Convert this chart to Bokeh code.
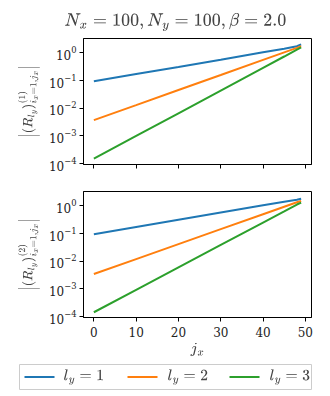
from bokeh.plotting import figure
from bokeh.models import Range1d, FixedTicker, Label, Title, Spacer
from bokeh.layouts import column, row
from bokeh.embed import file_html
from bokeh.resources import INLINE

# ---- data ----
jx = [0, 10, 20, 30, 40, 45, 48, 49]

r1_ly1 = [0.0955, 0.174, 0.309, 0.562, 1.047, 1.413, 1.738, 2.04]
r1_ly2 = [3.72e-3, 0.0130, 0.0457, 0.160, 0.562, 1.047, 1.514, 1.738]
r1_ly3 = [1.51e-4, 1.0e-3, 6.61e-3, 0.0437, 0.288, 0.741, 1.318, 1.585]

r2_ly1 = [0.0955, 0.174, 0.316, 0.575, 1.047, 1.413, 1.66, 1.82]
r2_ly2 = [3.47e-3, 0.0120, 0.0417, 0.145, 0.501, 0.933, 1.35, 1.51]
r2_ly3 = [1.445e-4, 9.33e-4, 6.03e-3, 0.0389, 0.251, 0.631, 1.122, 1.318]

legend_labels = ["$$l_y = 1$$", "$$l_y = 2$$", "$$l_y = 3$$"]
colors = ["#1f77b4", "#ff7f0e", "#2ca02c"]
x_ticks = [0, 10, 20, 30, 40, 50]

title_text = r"$$N_x = 100, N_y = 100, \beta = 2.0$$"
ylabel1 = r"$$\left|(R_{l_y})^{(1)}_{i_x=1,j_x}\right|$$"
ylabel2 = r"$$\left|(R_{l_y})^{(2)}_{i_x=1,j_x}\right|$$"
xlabel = r"$$j_x$$"

W = 322
FONT = "DejaVu Serif"
YLO, YHI = 10 ** -4.03, 10 ** 0.52


def make_fig(height, top, bottom, series, ylabel, show_xlabels):
    p = figure(width=W, height=height, y_axis_type="log",
               x_range=Range1d(-2.45, 51.45),
               y_range=Range1d(YLO, YHI),
               output_backend="svg", toolbar_location=None,
               min_border_left=83, min_border_right=11,
               min_border_top=top, min_border_bottom=bottom)
    p.grid.visible = False
    p.outline_line_color = "black"
    p.outline_line_width = 1
    p.background_fill_color = "white"
    for ys, c in zip(series, colors):
        p.line(jx, ys, line_color=c, line_width=2)
    for ax in (p.xaxis[0], p.yaxis[0]):
        ax.axis_line_color = "black"
        ax.major_tick_line_color = "black"
        ax.major_tick_in = 0
        ax.major_tick_out = 4
        ax.minor_tick_line_color = None
        ax.major_label_text_font = FONT
        ax.major_label_text_font_size = "12px"
        ax.major_label_text_color = "#222222"
        ax.major_label_standoff = 3
    p.xaxis.ticker = FixedTicker(ticks=x_ticks)
    p.yaxis.axis_label = ylabel
    p.yaxis.axis_label_text_font_size = "11.5px"
    p.yaxis.axis_label_standoff = 6
    if show_xlabels:
        p.xaxis.major_label_standoff = 5
        p.xaxis.axis_label = xlabel
        p.xaxis.axis_label_text_font_size = "12.5px"
        p.xaxis.axis_label_standoff = 3
    else:
        p.xaxis.major_label_text_font_size = "0px"
        p.xaxis.major_label_text_color = None
        p.xaxis.major_label_standoff = 0
    return p


p1 = make_fig(177, 38, 13, [r1_ly1, r1_ly2, r1_ly3], ylabel1, False)
p1.title = Title(text=title_text, align="left", text_font_size="14px",
                 text_font_style="normal", offset=-19, standoff=15)

p2 = make_fig(186, 14, 46, [r2_ly1, r2_ly2, r2_ly3], ylabel2, True)

# legend strip (frame = legend box)
pl = figure(width=294, height=27, x_range=Range1d(0, 292), y_range=Range1d(0, 25),
            x_axis_type=None, y_axis_type=None, output_backend="svg",
            toolbar_location=None, min_border_left=1, min_border_right=1,
            min_border_top=1, min_border_bottom=1,
            outline_line_color="#cccccc", outline_line_width=1)
pl.grid.visible = False
swatch_x0 = [5, 108, 210]
label_x = [44, 148, 250]
for x0, lx, c, lab in zip(swatch_x0, label_x, colors, legend_labels):
    pl.line([x0, x0 + 30], [12.5, 12.5], line_color=c, line_width=2)
    pl.add_layout(Label(x=lx, y=12.5, text=lab, text_baseline="middle",
                        text_align="left", text_font_size="12px"))

layout = column(p1, p2, row(Spacer(width=18, height=27), pl, spacing=0), spacing=0)
open("out.html", "w").write(file_html(layout, INLINE))
